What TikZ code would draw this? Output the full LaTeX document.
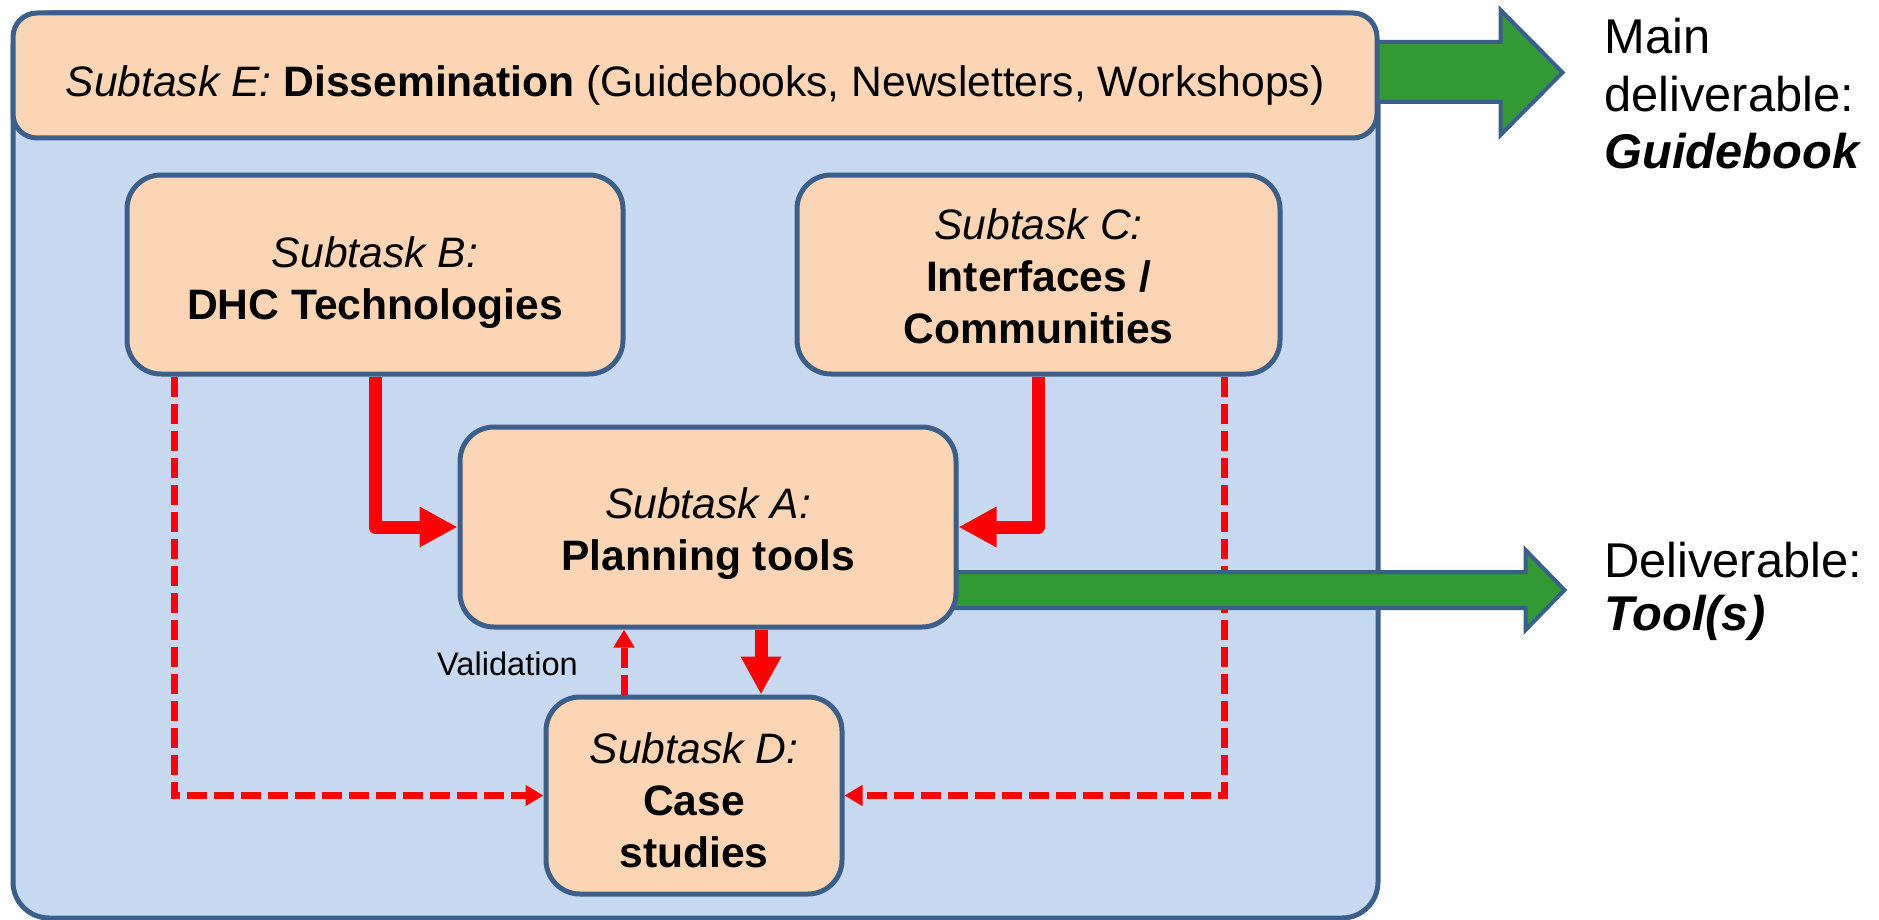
\documentclass[tikz,border=0pt]{standalone}
\usepackage{fontspec}
\setmainfont{Liberation Sans}
\usetikzlibrary{arrows.meta,calc}
\definecolor{peach}{HTML}{FCD5B5}
\definecolor{paleblue}{HTML}{C6D9F1}
\definecolor{edgeblue}{HTML}{3A5F8B}
\definecolor{leafgreen}{HTML}{339933}
\pgfdeclarelayer{bg}
\pgfdeclarelayer{mid}
\pgfsetlayers{bg,mid,main}

\begin{document}
\begin{tikzpicture}[x=0.5pt,y=-0.5pt,
  boxtext/.style={font=\fontsize{21.3}{26}\selectfont, align=center, inner sep=0pt},
  taskbox/.style={draw=edgeblue, line width=2.5pt, fill=peach, rounded corners=17pt, inner sep=0pt},
  flow/.style={draw=red, line width=6.5pt, line join=round, -{Triangle[width=19pt,length=19pt]}},
  feedback/.style={draw=red, line width=3.5pt, dash pattern=on 10pt off 3.5pt, -{Triangle[width=10pt,length=9pt]}},
  output/.style={draw=edgeblue, line width=2pt, fill=leafgreen},
  sidetext/.style={inner sep=0pt, anchor=west, align=left}
]
\useasboundingbox (0,0) rectangle (1879,920);

% outer task frame
\begin{pgfonlayer}{bg}
  \node[draw=edgeblue, line width=2.5pt, fill=paleblue, rounded corners=18pt,
        minimum width=682.5pt, minimum height=452.5pt, inner sep=0pt] (frame) at (695.5,465.5) {};
\end{pgfonlayer}

% subtask boxes
\node[taskbox, rounded corners=12pt, minimum width=682pt, minimum height=62.5pt,
      label={[boxtext, yshift=-4.8pt]center:{\textit{Subtask E:} \textbf{Dissemination} (Guidebooks, Newsletters, Workshops)}}]
      (E) at (695,75.5) {};
\node[taskbox, minimum width=248pt, minimum height=99.5pt,
      label={[boxtext, yshift=-4pt]center:{\textit{Subtask B:}\\\textbf{DHC Technologies}}}]
      (B) at (375,274.5) {};
\node[taskbox, minimum width=241.5pt, minimum height=99.5pt,
      label={[boxtext, yshift=-1pt]center:{\textit{Subtask C:}\\\textbf{Interfaces /}\\\textbf{Communities}}}]
      (C) at (1038.5,274.5) {};
\node[taskbox, minimum width=248pt, minimum height=100pt,
      label={[boxtext, yshift=-3.5pt]center:{\textit{Subtask A:}\\\textbf{Planning tools}}}]
      (A) at (708,527) {};
\node[taskbox, minimum width=148pt, minimum height=98.5pt,
      label={[boxtext, yshift=-2.5pt]center:{\textit{Subtask D:}\\\textbf{Case}\\\textbf{studies}}}]
      (D) at (694,795.5) {};

\node[inner sep=0pt, font=\fontsize{16.3}{19}\selectfont] (val) at (507.5,663.5) {Validation};

% deliverables
\node[sidetext, font=\fontsize{24.4}{28.75}\selectfont] (maindel) at (1604,93.6)
  {Main\\deliverable:\\\textbf{\textit{Guidebook}}};
\node[sidetext, font=\fontsize{24.4}{26.5}\selectfont] (tooldel) at (1604,591)
  {Deliverable:\\\textbf{\textit{Tool(s)}}};

\begin{pgfonlayer}{mid}
  % dashed links into the case studies
  \draw[feedback] ($(B.south)+(-201,0)$) |- (D.west);
  \draw[feedback] ($(C.south)+(185.5,0)$) |- (D.east);
  \draw[feedback] ($(D.north)+(-70,0)$) -- ($(A.south)+(-84,0)$);

  % main flows
  \draw[flow] (B.south) |- (A.west);
  \draw[flow] (C.south) |- (A.east);
  \draw[flow] ($(A.south)+(53,0)$) -- ($(D.north)+(67,0)$);

  % block arrows towards the deliverables
  \draw[output] ($(E.east)+(-10,-33.5)$) -- ++(131,0) -- ++(0,-32) -- ++(62,62.5)
     -- ++(-62,62.5) -- ++(0,-33) -- ++(-131,0) -- cycle;
  \draw[output] ($(A.east)+(-10,45)$) -- ++(577,0) -- ++(0,-22) -- ++(39,40)
     -- ++(-39,40) -- ++(0,-22) -- ++(-577,0) -- cycle;
\end{pgfonlayer}
\end{tikzpicture}
\end{document}
